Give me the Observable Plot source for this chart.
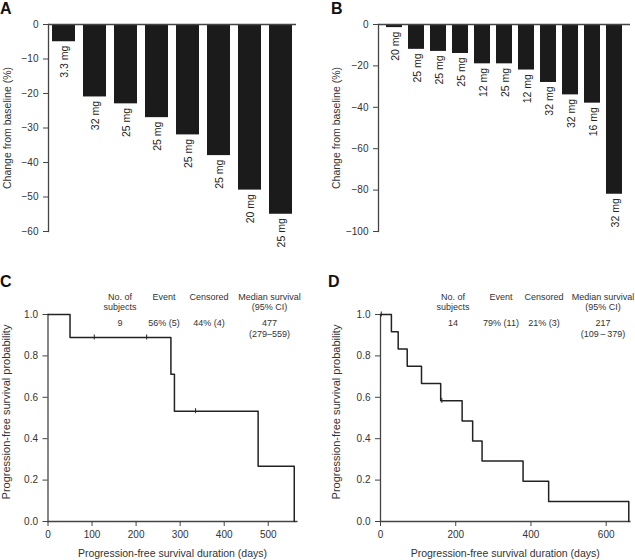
<!DOCTYPE html>
<html><head><meta charset="utf-8">
<script src="https://cdn.jsdelivr.net/npm/d3@7"></script>
<script src="https://cdn.jsdelivr.net/npm/@observablehq/plot@0.6"></script>
<style>
body{margin:0;background:#fff;}
#wrap{position:relative;width:635px;height:560px;font-family:"Liberation Sans",Arial,sans-serif;color:#333;overflow:hidden;}
.panel{position:absolute;}
.letter{position:absolute;font-weight:bold;font-size:16px;line-height:17px;color:#111;}
.hdr{position:absolute;font-size:9px;line-height:10.5px;text-align:center;transform:translateX(-50%);white-space:pre;color:#333;}
</style></head><body><div id="wrap"></div>
<script>
// ---- data ----
const aDoses = ["3.3 mg","32 mg","25 mg","25 mg","25 mg","25 mg","20 mg","25 mg"];
const aChange = [-5,-21,-23,-27,-32,-38,-48,-55];
const aTicks = [0,-10,-20,-30,-40,-50,-60];
const bDoses = ["20 mg","25 mg","25 mg","25 mg","12 mg","25 mg","12 mg","32 mg","32 mg","16 mg","32 mg"];
const bChange = [-1.5,-12,-13,-14,-19,-19,-22,-28,-34,-38,-82];
const bTicks = [0,-20,-40,-60,-80,-100];
const cTime = [0,50,279,287,477,559];
const cSurv = [1,0.889,0.711,0.533,0.267,0];
const cCensorTime = [105,224,335];
const cCensorSurv = [0.889,0.889,0.533];
const cTicks = [0,100,200,300,400,500];
const dTime = [0,29,47,71,109,160,217,245,270,379,447,660];
const dSurv = [1,0.917,0.833,0.75,0.667,0.583,0.486,0.389,0.292,0.194,0.097,0];
const dCensorTime = [2,163];
const dCensorSurv = [1,0.583];
const dTicks = [0,200,400,600];
const survTicks = [0,0.2,0.4,0.6,0.8,1.0];
const tableHeaders = ["No. of\nsubjects","Event","Censored","Median survival\n(95% CI)"];
const cTable = ["9","56% (5)","44% (4)","477\n(279\u2013559)"];
const dTable = ["14","79% (11)","21% (3)","217\n(109\u2009\u2013\u2009379)"];
const yTitleA = "Change from baseline (%)";
const yTitleKM = "Progression-free survival probability";
const xTitleKM = "Progression-free survival duration (days)";

const FONT = '"Liberation Sans", Arial, sans-serif';
const AX = "#444";
const wrap = document.getElementById("wrap");

function place(node, left, top) {
  const d = document.createElement("div");
  d.className = "panel";
  d.style.left = left + "px"; d.style.top = top + "px";
  d.appendChild(node); wrap.appendChild(d);
}
function letter(t, left, top) {
  const d = document.createElement("div");
  d.className = "letter"; d.textContent = t;
  d.style.left = left + "px"; d.style.top = top + "px";
  wrap.appendChild(d);
}

function waterfall({doses, change, ticks, width, marginLeft, marginRight, padIn, padOut, titleX}) {
  const data = doses.map((dose, i) => ({i, dose, v: change[i]}));
  return Plot.plot({
    width, height: 275, marginTop: 24, marginBottom: 44, marginLeft, marginRight,
    style: {fontFamily: FONT, color: "#333", background: "transparent", overflow: "visible"},
    x: {type: "band", domain: data.map(d => d.i), paddingInner: padIn, paddingOuter: padOut, axis: null},
    y: {domain: [d3.min(ticks), 0], axis: null},
    marks: [
      Plot.barY(data, {x: "i", y: "v", fill: "#1b1b1b"}),
      Plot.ruleY([0], {stroke: AX, strokeWidth: 1.3}),
      Plot.frame({anchor: "left", stroke: AX, strokeWidth: 1.3}),
      Plot.axisY({ticks, tickSize: 5, tickPadding: 5, label: null, fontSize: 10, stroke: AX}),
      Plot.text([yTitleA], {frameAnchor: "left", rotate: -90, textAnchor: "middle", lineAnchor: "middle", dx: titleX - marginLeft, fontSize: 10.5, fill: "#333"}),
      Plot.text(data, {x: "i", y: "v", text: "dose", rotate: -90, textAnchor: "end", dy: 4, dx: 1, fontSize: 10.5, fill: "#222"})
    ]
  });
}

function km({time, surv, censT, censS, xTicks, xMax, width, marginLeft, marginRight, titleX}) {
  const pts = time.map((t, i) => ({t, s: surv[i]}));
  const cens = censT.map((t, i) => ({t, s: censS[i]}));
  return Plot.plot({
    width, height: 280, marginTop: 34, marginBottom: 39, marginLeft, marginRight,
    style: {fontFamily: FONT, color: "#333", background: "transparent", overflow: "visible"},
    x: {domain: [0, xMax], axis: null},
    y: {domain: [0, 1], axis: null},
    marks: [
      Plot.frame({anchor: "left", stroke: AX, strokeWidth: 1.3}),
      Plot.frame({anchor: "bottom", stroke: AX, strokeWidth: 1.3}),
      Plot.axisX({ticks: xTicks, tickSize: 5, tickPadding: 4, label: null, fontSize: 10, stroke: AX}),
      Plot.axisY({ticks: survTicks, tickFormat: d3.format(".1f"), tickSize: 5, tickPadding: 5, label: null, fontSize: 10, stroke: AX}),
      Plot.text([yTitleKM], {frameAnchor: "left", rotate: -90, textAnchor: "middle", lineAnchor: "middle", dx: titleX - marginLeft, dy: -6, fontSize: 11, fill: "#333"}),
      Plot.text([xTitleKM], {frameAnchor: "bottom", textAnchor: "middle", lineAnchor: "middle", dy: 32, fontSize: 10.5, fill: "#333"}),
      Plot.line(pts, {x: "t", y: "s", curve: "step-after", stroke: "#222", strokeWidth: 1.5}),
      Plot.ruleX(cens, {x: "t", y1: d => d.s - 0.012, y2: d => d.s + 0.012, stroke: "#222", strokeWidth: 1})
    ]
  });
}

function table(vals, centers) {
  tableHeaders.forEach((h, i) => {
    const d = document.createElement("div");
    d.className = "hdr"; d.textContent = h;
    d.style.left = centers[i] + "px"; d.style.top = "291.5px";
    wrap.appendChild(d);
    const v = document.createElement("div");
    v.className = "hdr"; v.textContent = vals[i];
    v.style.left = centers[i] + "px"; v.style.top = "318px";
    wrap.appendChild(v);
  });
}

place(waterfall({doses: aDoses, change: aChange, ticks: aTicks, width: 315, marginLeft: 48, marginRight: 19, padIn: 0.26, padOut: 0.12, titleX: 7}), 0, 0);
place(waterfall({doses: bDoses, change: bChange, ticks: bTicks, width: 320, marginLeft: 63, marginRight: 5, padIn: 0.28, padOut: 0.21, titleX: 21}), 315, 0);
place(km({time: cTime, surv: cSurv, censT: cCensorTime, censS: cCensorSurv, xTicks: cTicks, xMax: 565, width: 315, marginLeft: 47.5, marginRight: 18.6, titleX: 6}), 0, 280);
place(km({time: dTime, surv: dSurv, censT: dCensorTime, censS: dCensorSurv, xTicks: dTicks, xMax: 663, width: 320, marginLeft: 65, marginRight: 5.6, titleX: 21}), 315, 280);

table(cTable, [120, 164, 209, 269.5]);
table(dTable, [453, 501, 544, 603]);

letter("A", 0, 0);
letter("B", 331, 0);
letter("C", 0, 273);
letter("D", 328, 273);
</script></body></html>
